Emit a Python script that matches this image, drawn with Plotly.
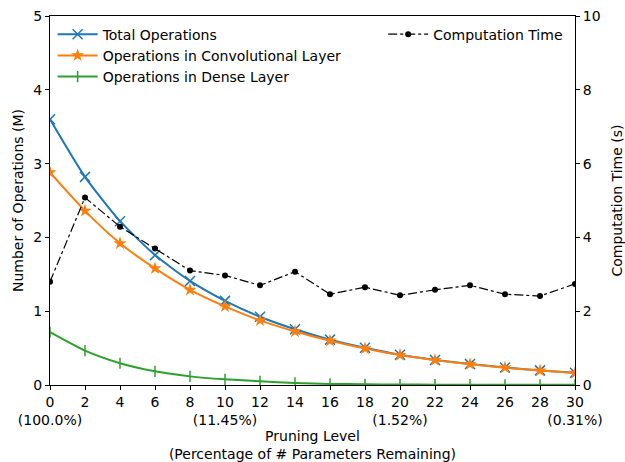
import plotly.graph_objects as go

levels = [0, 2, 4, 6, 8, 10, 12, 14, 16, 18, 20, 22, 24, 26, 28, 30]
total_ops = [3.60, 2.82, 2.22, 1.76, 1.41, 1.14, 0.925, 0.755, 0.615, 0.505, 0.41, 0.34, 0.285, 0.238, 0.198, 0.165]
conv_ops = [2.88, 2.36, 1.92, 1.58, 1.29, 1.065, 0.875, 0.725, 0.60, 0.495, 0.405, 0.337, 0.282, 0.235, 0.196, 0.163]
dense_ops = [0.715, 0.465, 0.295, 0.185, 0.117, 0.077, 0.05, 0.028, 0.015, 0.01, 0.007, 0.005, 0.004, 0.003, 0.002, 0.002]
comp_time = [2.80, 5.08, 4.29, 3.70, 3.10, 2.97, 2.70, 3.07, 2.46, 2.65, 2.43, 2.58, 2.70, 2.46, 2.41, 2.74]

tick_vals = levels
tick_text = ["0<br>(100.0%)", "2", "4", "6", "8", "10<br>(11.45%)", "12", "14", "16", "18",
             "20<br>(1.52%)", "22", "24", "26", "28", "30<br>(0.31%)"]

FONT = "DejaVu Sans"
FS = 14
fig = go.Figure()

fig.add_trace(go.Scatter(x=levels, y=total_ops, name="Total Operations", mode="lines+markers",
                         line=dict(color="#1f77b4", width=2, shape="spline", smoothing=0.6),
                         marker=dict(symbol="x-thin-open", size=10, color="#1f77b4",
                                     line=dict(width=1.5, color="#1f77b4")),
                         legend="legend"))
fig.add_trace(go.Scatter(x=levels, y=conv_ops, name="Operations in Convolutional Layer", mode="lines+markers",
                         line=dict(color="#ff7f0e", width=2, shape="spline", smoothing=0.6),
                         marker=dict(symbol="star", size=10, color="#ff7f0e"),
                         legend="legend"))
fig.add_trace(go.Scatter(x=levels, y=dense_ops, name="Operations in Dense Layer", mode="lines+markers",
                         line=dict(color="#2ca02c", width=2, shape="spline", smoothing=0.6),
                         marker=dict(symbol="line-ns-open", size=8, color="#2ca02c",
                                     line=dict(width=1.5, color="#2ca02c")),
                         legend="legend"))
fig.add_trace(go.Scatter(x=levels, y=comp_time, name="Computation Time", mode="lines+markers",
                         line=dict(color="black", width=1.2, dash="dashdot"),
                         marker=dict(symbol="circle", size=6, color="black"),
                         yaxis="y2", legend="legend2"))

axis_common = dict(showline=True, linecolor="black", linewidth=1, ticks="outside", ticklen=4,
                   tickcolor="black", showgrid=False, zeroline=False, tickangle=0, automargin=False,
                   tickfont=dict(family=FONT, size=FS, color="black"))

fig.update_layout(
    width=625, height=462,
    margin=dict(l=50, r=50, t=16, b=77),
    plot_bgcolor="white", paper_bgcolor="white",
    font=dict(family=FONT, size=FS, color="black"),
    xaxis=dict(range=[0, 30], tickvals=tick_vals, ticktext=tick_text, mirror=True,
               title=dict(text="Pruning Level<br>(Percentage of # Parameters Remaining)",
                          font=dict(family=FONT, size=FS), standoff=4),
               **axis_common),
    yaxis=dict(range=[0, 5], dtick=1,
               title=dict(text="Number of Operations (M)", font=dict(family=FONT, size=FS), standoff=6),
               **axis_common),
    yaxis2=dict(range=[0, 10], dtick=2, overlaying="y", side="right",
                title=dict(text="Computation Time (s)", font=dict(family=FONT, size=FS), standoff=12),
                **axis_common),
    legend=dict(x=0.005, y=0.993, xanchor="left", yanchor="top", bgcolor="rgba(255,255,255,0)",
                font=dict(family=FONT, size=FS), tracegroupgap=0, itemwidth=40),
    legend2=dict(x=0.987, y=0.993, xanchor="right", yanchor="top", bgcolor="rgba(255,255,255,0)",
                 font=dict(family=FONT, size=FS), itemwidth=40),
)

fig.write_html("out.html", config={"displayModeBar": False},
               post_script="document.body.style.margin='0';")
